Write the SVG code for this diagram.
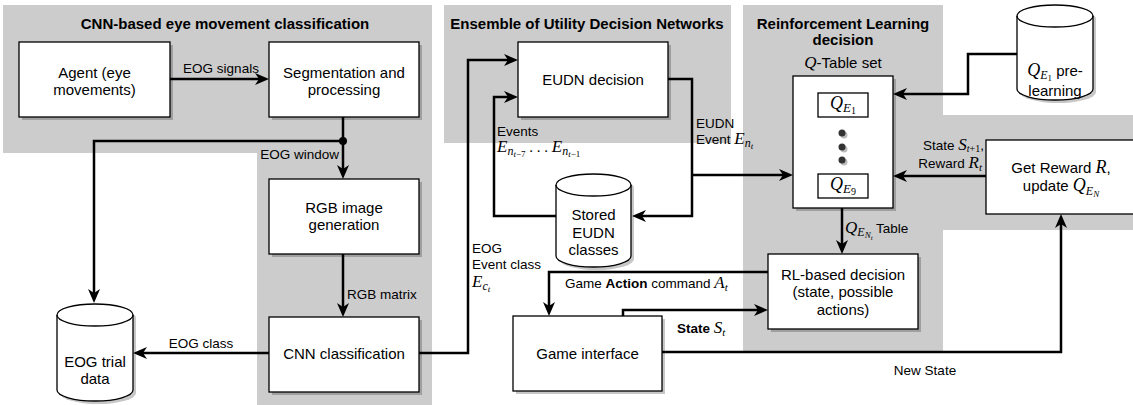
<svg xmlns="http://www.w3.org/2000/svg" width="1133" height="405" viewBox="0 0 1133 405">
<style>
.n{font-family:"Liberation Sans",Arial,Helvetica,sans-serif;font-size:15px;text-anchor:middle;fill:#000}
.l{font-family:"Liberation Sans",Arial,Helvetica,sans-serif;font-size:13.5px;fill:#000}
.t{font-family:"Liberation Sans",Arial,Helvetica,sans-serif;font-size:15px;font-weight:bold;text-anchor:middle;fill:#000}
.m{font-family:"Liberation Serif","Times New Roman",serif;font-style:italic}
.u{font-family:"Liberation Serif","Times New Roman",serif;font-style:normal}
.box{fill:#fff;stroke:#000;stroke-width:1.3}
.sh{fill:#000;opacity:0.22}
.panel{fill:#cccccc}
.c{fill:none;stroke:#000;stroke-width:2.5;marker-end:url(#ah)}
</style>
<defs>
<marker id="ah" markerUnits="userSpaceOnUse" markerWidth="14" markerHeight="12" refX="8" refY="6" orient="auto">
<path d="M0,0 L14,6 L0,12 L4,6 Z" fill="#000"/>
</marker>
</defs>
<rect width="1133" height="405" fill="#fff"/>
<g id="panels">
<path class="panel" d="M3,5 H432 V405 H257 V153 H3 Z"/>
<rect class="panel" x="444" y="5" width="287" height="138"/>
<path class="panel" d="M743,5 H943 V115 H1133 V230 H943 V352 H743 Z"/>
<text class="t" x="225" y="29">CNN-based eye movement classification</text>
<text class="t" x="587" y="29">Ensemble of Utility Decision Networks</text>
<text class="t" x="843" y="29">Reinforcement Learning</text>
<text class="t" x="843" y="45">decision</text>
</g>
<g id="agent">
<rect class="sh" x="22" y="45" width="151" height="75"/>
<rect class="box" x="19" y="42" width="151" height="75"/>
<text class="n" x="94.5" y="78">Agent (eye</text>
<text class="n" x="94.5" y="95">movements)</text>
</g>
<g id="segmentation">
<rect class="sh" x="272" y="45" width="150" height="75"/>
<rect class="box" x="269" y="42" width="150" height="75"/>
<text class="n" x="344" y="78">Segmentation and</text>
<text class="n" x="344" y="95">processing</text>
</g>
<g id="rgb">
<rect class="sh" x="272" y="182" width="150" height="75"/>
<rect class="box" x="269" y="179" width="150" height="75"/>
<text class="n" x="344" y="213">RGB image</text>
<text class="n" x="344" y="230">generation</text>
</g>
<g id="cnn">
<rect class="sh" x="272" y="320" width="150" height="75"/>
<rect class="box" x="269" y="317" width="150" height="75"/>
<text class="n" x="344" y="359">CNN classification</text>
</g>
<g id="eogtrial">
<path class="sh" transform="translate(3,3)" d="M57,315 A38,11 0 0 1 133,315 V390 A38,11 0 0 1 57,390 Z"/>
<path class="box" d="M57,315 A38,11 0 0 1 133,315 V390 A38,11 0 0 1 57,390 Z"/>
<path fill="none" stroke="#000" stroke-width="1.3" d="M57,315 A38,11 0 0 0 133,315"/>
<text class="n" x="95" y="367">EOG trial</text>
<text class="n" x="95" y="384">data</text>
</g>
<g id="eudn">
<rect class="sh" x="521" y="45" width="150" height="75"/>
<rect class="box" x="518" y="42" width="150" height="75"/>
<text class="n" x="593" y="85">EUDN decision</text>
</g>
<g id="stored">
<path class="sh" transform="translate(3,3)" d="M556,185 A37.5,11 0 0 1 631,185 V256 A37.5,11 0 0 1 556,256 Z"/>
<path class="box" d="M556,185 A37.5,11 0 0 1 631,185 V256 A37.5,11 0 0 1 556,256 Z"/>
<path fill="none" stroke="#000" stroke-width="1.3" d="M556,185 A37.5,11 0 0 0 631,185"/>
<text class="n" x="593.5" y="220">Stored</text>
<text class="n" x="593.5" y="238">EUDN</text>
<text class="n" x="593.5" y="255">classes</text>
</g>
<g id="game">
<rect class="sh" x="516" y="319" width="149" height="75"/>
<rect class="box" x="513" y="316" width="149" height="75"/>
<text class="n" x="587.5" y="359">Game interface</text>
</g>
<g id="qtable">
<rect class="sh" x="796" y="79" width="100" height="132"/>
<rect class="box" x="793" y="76" width="100" height="132"/>
<text class="n" x="843" y="68"><tspan class="m" font-size="17">Q</tspan>-Table set</text>
<rect class="box" x="818" y="93" width="50" height="24"/>
<text class="n" x="843" y="109"><tspan class="m" font-size="18">Q</tspan><tspan class="m" font-size="13" dy="3">E</tspan><tspan class="u" font-size="10" dy="2">1</tspan></text>
<circle cx="844" cy="135" r="3.5" fill="#bbb"/>
<circle cx="842" cy="133" r="3.5" fill="#333"/>
<circle cx="844" cy="149" r="3.5" fill="#bbb"/>
<circle cx="842" cy="147" r="3.5" fill="#333"/>
<circle cx="844" cy="162" r="3.5" fill="#bbb"/>
<circle cx="842" cy="160" r="3.5" fill="#333"/>
<rect class="box" x="818" y="174" width="50" height="24"/>
<text class="n" x="843" y="190"><tspan class="m" font-size="18">Q</tspan><tspan class="m" font-size="13" dy="3">E</tspan><tspan class="u" font-size="10" dy="2">9</tspan></text>
</g>
<g id="qpre">
<path class="sh" transform="translate(3,3)" d="M1017,16 A38,11 0 0 1 1093,16 V89 A38,11 0 0 1 1017,89 Z"/>
<path class="box" d="M1017,16 A38,11 0 0 1 1093,16 V89 A38,11 0 0 1 1017,89 Z"/>
<path fill="none" stroke="#000" stroke-width="1.3" d="M1017,16 A38,11 0 0 0 1093,16"/>
<text class="n" x="1055" y="76"><tspan class="m" font-size="18">Q</tspan><tspan class="m" font-size="12" dy="3">E</tspan><tspan class="u" font-size="9" dy="1.5">1</tspan><tspan dy="-4.5"> pre-</tspan></text>
<text class="n" x="1055" y="96">learning</text>
</g>
<g id="rl">
<rect class="sh" x="771" y="257" width="150" height="75"/>
<rect class="box" x="768" y="254" width="150" height="75"/>
<text class="n" x="843" y="280">RL-based decision</text>
<text class="n" x="843" y="297">(state, possible</text>
<text class="n" x="843" y="315">actions)</text>
</g>
<g id="reward">
<rect class="box" x="986" y="140" width="150" height="74"/>
<text class="n" x="1061" y="173">Get Reward <tspan class="m" font-size="18">R</tspan>,</text>
<text class="n" x="1061" y="191">update <tspan class="m" font-size="18">Q</tspan><tspan class="m" font-size="12" dy="4">E</tspan><tspan class="m" font-size="9" dy="2">N</tspan></text>
</g>
<g id="connectors">
<path class="c" d="M170,79 H263"/>
<path class="c" d="M343,117 V173"/>
<path class="c" d="M343,141 H94 V297"/>
<circle cx="343" cy="141" r="4" fill="#000"/>
<path class="c" d="M343,254 V311"/>
<path class="c" d="M269,353 H139"/>
<path class="c" d="M419,353 H468 V60 H512"/>
<path class="c" d="M556,216 H494 V97 H512"/>
<path class="c" d="M668,79 H692 V216 H638"/>
<path class="c" d="M692,175 H787"/>
<path class="c" d="M986,176 H899"/>
<path class="c" d="M1017,54 H968 V94 H899"/>
<path class="c" d="M842,208 V248"/>
<path class="c" d="M768,272 H549 V310"/>
<path class="c" d="M623,316 V310 H762"/>
<path class="c" d="M662,352 H1061 V220"/>
<text class="l" x="221" y="73" text-anchor="middle">EOG signals</text>
<text class="l" x="339" y="159" text-anchor="end">EOG window</text>
<text class="l" x="347" y="299">RGB matrix</text>
<text class="l" x="201" y="348" text-anchor="middle">EOG class</text>
<text class="l" x="472" y="253">EOG</text>
<text class="l" x="472" y="269">Event class</text>
<text class="l" x="472" y="287"><tspan class="m" font-size="17">E</tspan><tspan class="m" font-size="12" dy="3">c</tspan><tspan class="m" font-size="9" dy="2">t</tspan></text>
<text class="l" x="497" y="136">Events</text>
<text class="l" x="497" y="152"><tspan class="m" font-size="17">E</tspan><tspan class="m" font-size="12" dy="3">n</tspan><tspan class="m" font-size="9" dy="2">t</tspan><tspan class="u" font-size="9">−7</tspan><tspan class="u" font-size="15" dy="-5"> . . . </tspan><tspan class="m" font-size="17">E</tspan><tspan class="m" font-size="12" dy="3">n</tspan><tspan class="m" font-size="9" dy="2">t</tspan><tspan class="u" font-size="9">−1</tspan></text>
<text class="l" x="696" y="128">EUDN</text>
<text class="l" x="696" y="144">Event <tspan class="m" font-size="17">E</tspan><tspan class="m" font-size="12" dy="3">n</tspan><tspan class="m" font-size="9" dy="2">t</tspan></text>
<text class="l" x="565" y="288">Game <tspan font-weight="bold">Action</tspan> command <tspan class="m" font-size="17">A</tspan><tspan class="m" font-size="11" dy="3">t</tspan></text>
<text class="l" x="677" y="333"><tspan font-weight="bold">State</tspan> <tspan class="m" font-size="17">S</tspan><tspan class="m" font-size="11" dy="3">t</tspan></text>
<text class="l" x="845" y="233"><tspan class="m" font-size="17">Q</tspan><tspan class="m" font-size="12" dy="3">E</tspan><tspan class="m" font-size="9" dy="2">N</tspan><tspan class="m" font-size="7" dy="2">t</tspan><tspan dy="-7"> Table</tspan></text>
<text class="l" x="984" y="150" text-anchor="end">State <tspan class="m" font-size="17">S</tspan><tspan class="m" font-size="10" dy="2">t</tspan><tspan class="u" font-size="10">+1</tspan><tspan dy="-2">,</tspan></text>
<text class="l" x="982" y="168" text-anchor="end">Reward <tspan class="m" font-size="17">R</tspan><tspan class="m" font-size="11" dy="3">t</tspan></text>
<text class="l" x="925" y="375" text-anchor="middle">New State</text>
</g>
</svg>
